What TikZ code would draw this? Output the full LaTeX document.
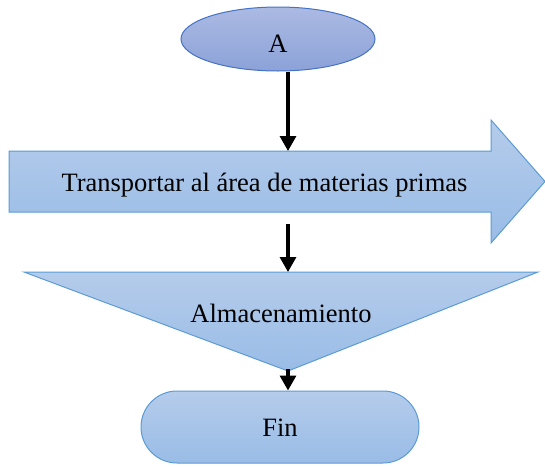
\documentclass[tikz,border=0pt]{standalone}
\usepackage{fontspec}
\setmainfont{Liberation Serif}
\usetikzlibrary{shapes.geometric,arrows.meta,calc}
\definecolor{fillTop}{RGB}{181,204,235}
\definecolor{fillBot}{RGB}{153,188,230}
\definecolor{edgeBlue}{RGB}{91,155,213}
\definecolor{ellTop}{RGB}{172,186,227}
\definecolor{ellBot}{RGB}{139,162,216}
\definecolor{ellEdge}{RGB}{68,114,196}
\begin{document}
\begin{tikzpicture}[x=1pt,y=-1pt,
  shapebox/.style={draw=edgeBlue, line width=1pt, line join=miter, top color=fillTop, bottom color=fillBot},
  flowarrow/.style={-{Triangle[length=15pt,width=16pt]}, line width=3.2pt, black},
  txt/.style={font=\fontsize{26.5}{30}\selectfont, anchor=base, inner sep=0pt}]
\useasboundingbox (0,0) rectangle (545,466);

% start ellipse
\node[ellipse, draw=ellEdge, line width=1pt, top color=ellTop, bottom color=ellBot,
      minimum width=194pt, minimum height=64pt, inner sep=0pt] (A) at (278,39) {};
\node[txt] (Atxt) at (278,52) {A};

% block arrow
\path[shapebox] (9,151) -- (491,151) -- (491,120) -- (545,181.5) -- (491,243) -- (491,212) -- (9,212) -- cycle;
\node[txt] (T) at (264.5,191) {Transportar al área de materias primas};
\coordinate (Tin) at (288,151);
\coordinate (Tout) at (288,224);

% storage triangle
\path[shapebox] (24,272) -- (538,272) -- (288,371) -- cycle;
\node[txt] (S) at (281,322) {Almacenamiento};
\coordinate (Sin) at (288,272);
\coordinate (Sout) at (288,369);

% end terminal
\node[shapebox, rounded corners=36pt, minimum width=278pt, minimum height=72pt, inner sep=0pt] (F) at (280,427) {};
\node[txt] (Ftxt) at (280,436) {Fin};
\coordinate (Fin) at (F.north -| Sout);

% connectors
\draw[flowarrow] (A.south -| Tin) -- (Tin);
\draw[flowarrow] (Tout) -- (Sin);
\draw[flowarrow] (Sout) -- (Fin);
\end{tikzpicture}
\end{document}
